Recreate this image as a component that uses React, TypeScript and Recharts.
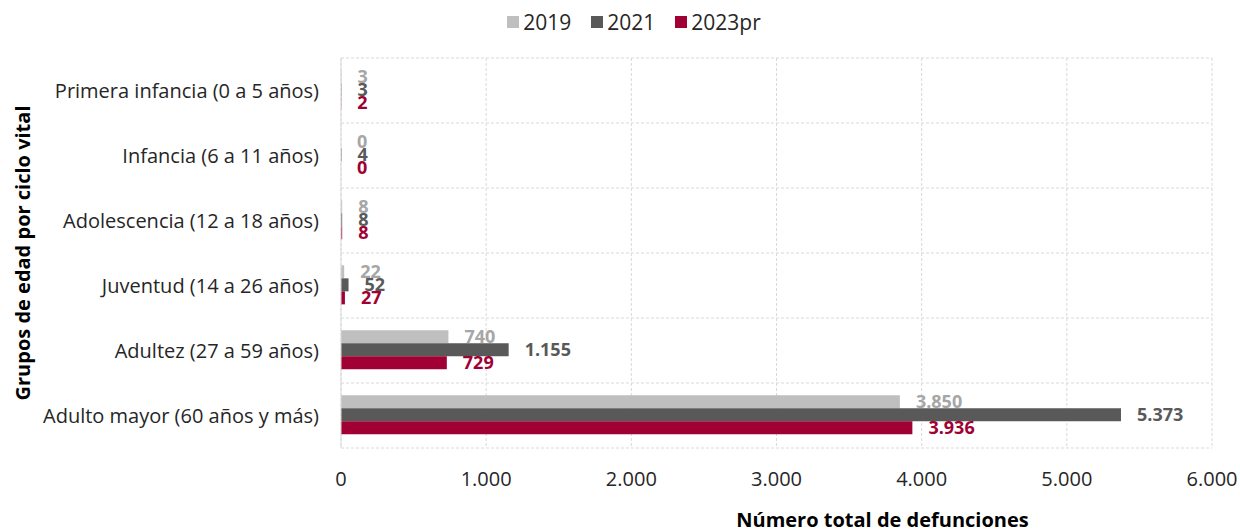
import React from 'react';
import { BarChart, Bar, XAxis, YAxis, CartesianGrid, Legend, LabelList, Label } from 'recharts';

const categorias = [
  'Primera infancia (0 a 5 años)',
  'Infancia (6 a 11 años)',
  'Adolescencia (12 a 18 años)',
  'Juventud (14 a 26 años)',
  'Adultez (27 a 59 años)',
  'Adulto mayor (60 años y más)',
];
const def2019 = [3, 0, 8, 22, 740, 3850];
const def2021 = [3, 4, 8, 52, 1155, 5373];
const def2023pr = [2, 0, 8, 27, 729, 3936];
const xTicks = [0, 1000, 2000, 3000, 4000, 5000, 6000];

const FONT = '"Open Sans", "Noto Sans", sans-serif';
const GRID = '#d9d9d9';

const fmt = (v: any) => String(v).replace(/\B(?=(\d{3})+(?!\d))/g, '.');

const data = categorias.map((grupo, i) => ({
  grupo,
  y2019: def2019[i],
  y2021: def2021[i],
  y2023: def2023pr[i],
}));

const series = [
  { key: 'y2019', name: '2019', fill: '#bfbfbf', label: '#a6a6a6' },
  { key: 'y2021', name: '2021', fill: '#595959', label: '#595959' },
  { key: 'y2023', name: '2023pr', fill: '#a00033', label: '#a00033' },
];

// zero values still need their bar entry so the label "0" shows
const minSize = (v: number) => (v === 0 ? 0.01 : 0);

const renderLegend = (props: any) => {
  const items = props.payload || [];
  return (
    <div style={{ display: 'flex', justifyContent: 'center', height: 24, fontFamily: FONT, fontSize: 21, color: '#262626' }}>
      {items.map((it: any) => (
        <div key={it.value} style={{ display: 'flex', alignItems: 'center', margin: '0 10px' }}>
          <span style={{ width: 12, height: 12, background: it.color, marginRight: 4 }} />
          <span style={{ lineHeight: '24px' }}>{it.value}</span>
        </div>
      ))}
    </div>
  );
};

const YTitle = (props: any) => {
  const vb = props.viewBox || {};
  const cy = vb.y + vb.height / 2;
  return (
    <text x={22} y={cy} transform={`rotate(-90, 22, ${cy})`} textAnchor="middle" dominantBaseline="central"
      style={{ fontFamily: FONT, fontSize: 20, fontWeight: 700, fill: '#000' }}>
      Grupos de edad por ciclo vital
    </text>
  );
};

const XTitle = (props: any) => {
  const vb = props.viewBox || {};
  const cx = vb.x + vb.width / 2 + 106;
  return (
    <text x={cx} y={vb.y + 71} textAnchor="middle" dominantBaseline="central"
      style={{ fontFamily: FONT, fontSize: 20, fontWeight: 700, fill: '#000' }}>
      Número total de defunciones
    </text>
  );
};

export default function App() {
  return (
    <div style={{ position: 'absolute', top: 0, left: 0, width: 1240, height: 531, background: '#fff' }}>
      <BarChart
        width={1240}
        height={531}
        data={data}
        layout="vertical"
        margin={{ top: 34, right: 28, bottom: 23, left: 0 }}
        barCategoryGap="19%"
        barGap={0}
      >
        <CartesianGrid
          stroke={GRID}
          strokeDasharray="3 2"
          horizontalCoordinatesGenerator={({ offset }: any) =>
            categorias.map((_, i) => offset.top + (offset.height * i) / categorias.length).concat(offset.top + offset.height)
          }
        />
        <Legend verticalAlign="top" align="center" content={renderLegend} wrapperStyle={{ top: 10, left: 14, width: 1240 }} />
        <XAxis
          type="number"
          domain={[0, 6000]}
          ticks={xTicks}
          tickFormatter={fmt}
          axisLine={false}
          tickLine={false}
          tickSize={0}
          tickMargin={24}
          height={60}
          tick={{ fontFamily: FONT, fontSize: 20, fill: '#262626' }}
        >
          <Label content={<XTitle />} />
        </XAxis>
        <YAxis
          type="category"
          dataKey="grupo"
          width={341}
          axisLine={{ stroke: GRID }}
          tickLine={false}
          tickSize={0}
          tickMargin={22}
          tick={{ fontFamily: FONT, fontSize: 20, fill: '#262626' }}
        >
          <Label content={<YTitle />} />
        </YAxis>
        {series.map((s) => (
          <Bar key={s.key} dataKey={s.key} name={s.name} fill={s.fill} minPointSize={minSize} isAnimationActive={false}>
            <LabelList
              dataKey={s.key}
              position="right"
              offset={16}
              formatter={fmt}
              style={{ fontFamily: FONT, fontSize: 18, fontWeight: 700, fill: s.label }}
            />
          </Bar>
        ))}
      </BarChart>
    </div>
  );
}
